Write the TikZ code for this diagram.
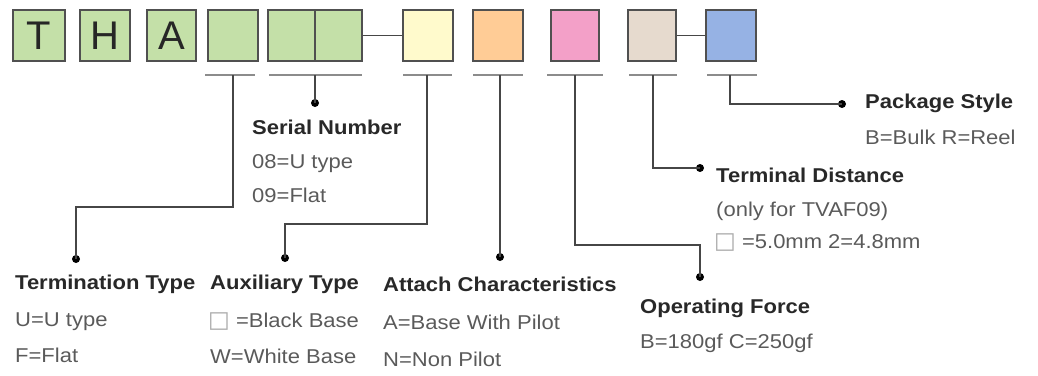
\documentclass[tikz,border=0pt]{standalone}
\usepackage{fontspec}
\setmainfont{Liberation Sans}[FakeStretch=1.1]
\newfontfamily\boxfont{Liberation Sans}
\newfontfamily\symfont{DejaVu Sans}
\definecolor{gfill}{RGB}{196,224,168}
\definecolor{yfill}{RGB}{255,250,204}
\definecolor{ofill}{RGB}{255,204,150}
\definecolor{pfill}{RGB}{243,160,200}
\definecolor{bfill}{RGB}{230,218,206}
\definecolor{blfill}{RGB}{150,178,228}
\definecolor{edge}{RGB}{80,80,80}
\definecolor{ulgray}{RGB}{140,140,140}
\definecolor{conn}{RGB}{70,70,70}
\definecolor{headc}{RGB}{40,40,40}
\definecolor{txtc}{RGB}{90,90,90}
\definecolor{sqc}{RGB}{170,170,170}
\newcommand{\emptysq}{{\color{sqc}\symfont\fontsize{23}{23}\selectfont □}}
\begin{document}
\begin{tikzpicture}[x=1pt,y=-1pt,
  cbox/.style={draw=edge,line width=1.5pt,minimum width=50pt,minimum height=51pt,inner sep=0pt,
     font=\boxfont\fontsize{40}{40}\selectfont,text=black!85},
  uline/.style={draw=ulgray,line width=2.5pt},
  link/.style={draw=conn,line width=1.8pt},
  dotc/.style={fill=black,circle,inner sep=0pt,minimum size=8pt},
  head/.style={anchor=base west,inner sep=0pt,font=\bfseries\fontsize{20}{24}\selectfont,text=headc},
  txt/.style={anchor=base west,inner sep=0pt,font=\fontsize{20}{24}\selectfont,text=txtc}]
\useasboundingbox (0,0) rectangle (1038,375);
% boxes
\node[cbox,fill=gfill,minimum width=52pt] (b1) at (39,35.5) {T};
\node[cbox,fill=gfill] (b2) at (105,35.5) {H};
\node[cbox,fill=gfill,minimum width=49pt] (b3) at (171.5,35.5) {A};
\node[cbox,fill=gfill] (b4) at (233,35.5) {};
\node[cbox,fill=gfill,minimum width=47pt] (b5a) at (291.5,35.5) {};
\node[cbox,fill=gfill,minimum width=47pt] (b5b) at (338.5,35.5) {};
\node[cbox,fill=yfill] (b6) at (428,35.5) {};
\node[cbox,fill=ofill] (b7) at (498,35.5) {};
\node[cbox,fill=pfill,minimum width=48pt] (b8) at (575,35.5) {};
\node[cbox,fill=bfill,minimum width=48pt] (b9) at (652,35.5) {};
\node[cbox,fill=blfill] (b10) at (731,35.5) {};
\draw[link] (b5b.east) -- (b6.west);
\draw[link] (b9.east) -- (b10.west);
% underlines
\coordinate (u4l) at (205,75); \coordinate (u4r) at (255,75);
\coordinate (u5l) at (269,75); \coordinate (u5r) at (362,75);
\coordinate (u6l) at (403,75); \coordinate (u6r) at (452,75);
\coordinate (u7l) at (473,75); \coordinate (u7r) at (523,75);
\coordinate (u8l) at (547,75); \coordinate (u8r) at (603,75);
\coordinate (u9l) at (629,75); \coordinate (u9r) at (677,75);
\coordinate (u10l) at (707,75); \coordinate (u10r) at (757,75);
\foreach \u in {4,5,6,7,8,9,10} {\draw[uline] (u\u l) -- (u\u r);}
% start points
\coordinate (s4) at (233,75);
\coordinate (s5) at (315,75);
\coordinate (s6) at (427,75);
\coordinate (s7) at (500,75);
\coordinate (s8) at (575,75);
\coordinate (s9) at (653,75);
\coordinate (s10) at (730,75);
% dots
\node[dotc] (d4) at (76,259) {};
\node[dotc] (d5) at (315,103) {};
\node[dotc] (d6) at (285,258) {};
\node[dotc] (d7) at (500,257) {};
\node[dotc] (d8) at (700,277) {};
\node[dotc] (d9) at (700,168) {};
\node[dotc] (d10) at (842,104) {};
% connectors
\draw[link] (s4) -- (233,207) -- (76,207) -- (d4.center);
\draw[link] (s5) -- (d5.center);
\draw[link] (s6) -- (427,224) -- (285,224) -- (d6.center);
\draw[link] (s7) -- (d7.center);
\draw[link] (s8) -- (575,245) -- (700,245) -- (d8.center);
\draw[link] (s9) -- (653,168) -- (d9.center);
\draw[link] (s10) -- (730,104) -- (d10.center);
% texts
\node[head] (t5h) at (252,134) {Serial Number};
\node[txt] (t5a) at (252,168) {08=U type};
\node[txt] (t5b) at (252,202) {09=Flat};
\node[head] (t4h) at (15,289) {Termination Type};
\node[txt] (t4a) at (15,326) {U=U type};
\node[txt] (t4b) at (15,362) {F=Flat};
\node[head] (t6h) at (210,289) {Auxiliary Type};
\node[txt] (t6a) at (208,327) {\emptysq\ =Black Base};
\node[txt] (t6b) at (210,363) {W=White Base};
\node[head] (t7h) at (383,291) {Attach Characteristics};
\node[txt] (t7a) at (383,329) {A=Base With Pilot};
\node[txt] (t7b) at (383,366) {N=Non Pilot};
\node[head] (t8h) at (640,313) {Operating Force};
\node[txt] (t8a) at (640,348) {B=180gf C=250gf};
\node[head] (t9h) at (716,182) {Terminal Distance};
\node[txt] (t9a) at (716,216) {(only for TVAF09)};
\node[txt] (t9b) at (714,248) {\emptysq\ =5.0mm 2=4.8mm};
\node[head] (t10h) at (865,108) {Package Style};
\node[txt] (t10a) at (865,144) {B=Bulk R=Reel};
\end{tikzpicture}
\end{document}
